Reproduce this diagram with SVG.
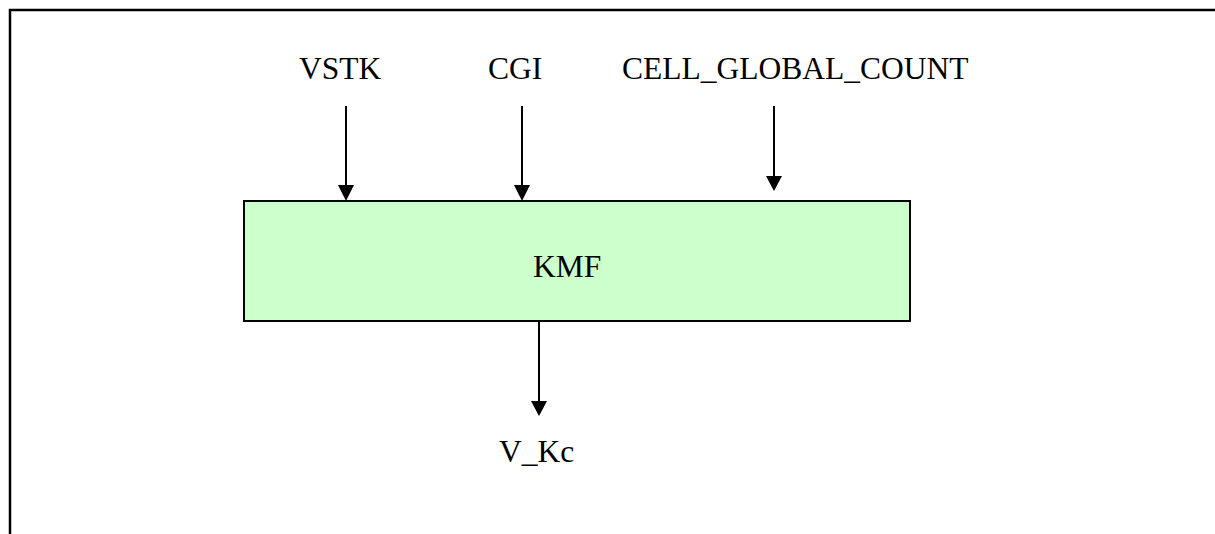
<svg xmlns="http://www.w3.org/2000/svg" width="1215" height="534" viewBox="0 0 1215 534">
<style>
text{font-family:"Liberation Serif","Times New Roman",serif;font-size:31.5px;fill:#000}
.c{stroke:#000;stroke-width:2;fill:none}
.h{fill:#000}
</style>
<rect width="1215" height="534" fill="#fff"/>
<path d="M10,534 V10 H1215" fill="none" stroke="#000" stroke-width="2.5"/>
<g id="connectors">
<line class="c" x1="346" y1="106" x2="346" y2="188"/>
<polygon class="h" points="338,185 354,185 346,201"/>
<line class="c" x1="522" y1="106" x2="522" y2="188"/>
<polygon class="h" points="514,185 530,185 522,201"/>
<line class="c" x1="774" y1="106" x2="774" y2="178"/>
<polygon class="h" points="766,176 782,176 774,191"/>
<line class="c" x1="539" y1="321" x2="539" y2="405"/>
<polygon class="h" points="531,401 547,401 539,416"/>
</g>
<g id="VSTK"><text x="299" y="79">VSTK</text></g>
<g id="CGI"><text x="488" y="79">CGI</text></g>
<g id="CELL_GLOBAL_COUNT"><text x="622" y="79">CELL_GLOBAL_COUNT</text></g>
<g id="KMF">
<rect x="244" y="201" width="666" height="120" fill="#CCFFCC" stroke="#000" stroke-width="2"/>
<text x="533" y="277">KMF</text>
</g>
<g id="V_Kc"><text x="499" y="462">V_Kc</text></g>
</svg>
